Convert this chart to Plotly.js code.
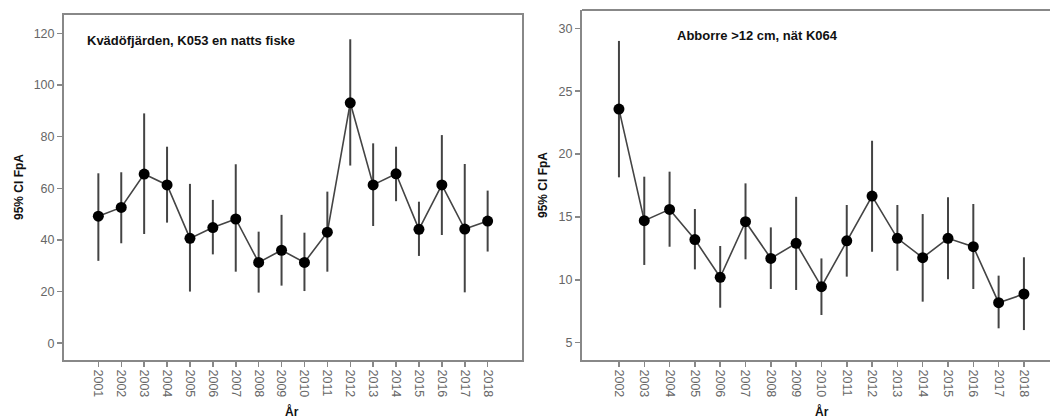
<!DOCTYPE html>
<html>
<head>
<meta charset="utf-8">
<script src="https://cdn.plot.ly/plotly-3.0.1.min.js"></script>
<style>html,body{margin:0;padding:0;background:#fff;}#chart{width:1050px;height:418px;}</style>
</head>
<body>
<div id="chart"></div>
<script>
// Left panel: Kvädöfjärden, K053
const yearsA = [2001,2002,2003,2004,2005,2006,2007,2008,2009,2010,2011,2012,2013,2014,2015,2016,2017,2018];
const meanA  = [49.2,52.6,65.5,61.3,40.6,44.8,48.1,31.3,36.0,31.3,43.0,93.1,61.3,65.6,44.1,61.3,44.2,47.3];
const lowA   = [31.9,38.7,42.3,46.7,20.0,34.4,27.7,19.6,22.3,20.2,27.7,68.8,45.4,55.0,33.8,41.9,19.7,35.5];
const highA  = [65.8,66.2,89.0,76.1,61.7,55.5,69.3,43.2,49.7,42.8,58.7,117.7,77.4,76.1,54.8,80.6,69.4,59.1];

// Right panel: Abborre >12 cm, nät K064
const yearsB = [2002,2003,2004,2005,2006,2007,2008,2009,2010,2011,2012,2013,2014,2015,2016,2017,2018];
const meanB  = [23.58,14.70,15.60,13.20,10.20,14.62,11.70,12.90,9.45,13.10,16.66,13.30,11.76,13.30,12.63,8.18,8.87];
const lowB   = [18.15,11.18,12.63,10.83,7.78,11.63,9.27,9.19,7.20,10.25,12.23,10.72,8.26,10.04,9.27,6.14,6.00];
const highB  = [29.00,18.20,18.60,15.63,12.69,17.67,14.17,16.60,11.70,15.95,21.06,15.95,15.23,16.56,16.03,10.33,11.79];

const tickA = [0,20,40,60,80,100,120];
const tickB = [5,10,15,20,25,30];

function trace(x, m, lo, hi, xa, ya) {
  return {
    x: x, y: m, xaxis: xa, yaxis: ya, type: 'scatter', mode: 'lines+markers',
    line: {color: '#444', width: 1.6},
    marker: {color: '#000', size: 11},
    error_y: {type: 'data', symmetric: false,
      array: hi.map((h, i) => h - m[i]),
      arrayminus: lo.map((l, i) => m[i] - l),
      color: '#444', thickness: 2, width: 0},
    showlegend: false, hoverinfo: 'skip'
  };
}

const axisFont = {family: 'Liberation Sans, Arial, sans-serif', size: 12.5, color: '#666'};
const gridLine = '#888';

const layout = {
  width: 1050, height: 418,
  margin: {l: 0, r: 0, t: 0, b: 0},
  paper_bgcolor: '#fff', plot_bgcolor: '#fff',
  xaxis: {domain: [64/1050, 522/1050], range: [1999.5, 2019.5], tickvals: yearsA, ticktext: yearsA.map(String),
    tickangle: 90, ticks: 'outside', ticklen: 5, tickcolor: gridLine, tickwidth: 1.5,
    showline: true, linecolor: gridLine, linewidth: 2, mirror: true, showgrid: false, zeroline: false,
    tickfont: axisFont, anchor: 'y', fixedrange: true},
  yaxis: {domain: [1 - 360/418, 1 - 15/418], range: [-6.5, 127.1], tickvals: tickA,
    ticks: 'outside', ticklen: 5, tickcolor: gridLine, tickwidth: 1.5,
    showline: true, linecolor: gridLine, linewidth: 2, mirror: true, showgrid: false, zeroline: false,
    tickfont: axisFont, anchor: 'x', fixedrange: true},
  xaxis2: {domain: [582/1050, 1], range: [2000.54, 2019.03], tickvals: yearsB, ticktext: yearsB.map(String),
    tickangle: 90, ticks: 'outside', ticklen: 5, tickcolor: gridLine, tickwidth: 1.5,
    showline: true, linecolor: gridLine, linewidth: 2, showgrid: false, zeroline: false,
    tickfont: axisFont, anchor: 'y2', fixedrange: true},
  yaxis2: {domain: [1 - 360/418, 1 - 10/418], range: [3.62, 31.46], tickvals: tickB,
    ticks: 'outside', ticklen: 5, tickcolor: gridLine, tickwidth: 1.5,
    showline: true, linecolor: gridLine, linewidth: 2, showgrid: false, zeroline: false,
    tickfont: axisFont, anchor: 'x2', fixedrange: true},
  shapes: [
    {type: 'line', xref: 'x2 domain', yref: 'y2 domain', x0: 0, x1: 1, y0: 1, y1: 1,
     line: {color: gridLine, width: 2}}
  ],
  annotations: [
    {text: '<b>Kvädöfjärden, K053 en natts fiske</b>', xref: 'paper', yref: 'paper',
     x: 85/1050, y: 1 - 40/418, xanchor: 'left', yanchor: 'middle', showarrow: false,
     font: {family: 'Liberation Sans, Arial, sans-serif', size: 13, color: '#111'}},
    {text: '<b>Abborre >12 cm, nät K064</b>', xref: 'paper', yref: 'paper',
     x: 675/1050, y: 1 - 35/418, xanchor: 'left', yanchor: 'middle', showarrow: false,
     font: {family: 'Liberation Sans, Arial, sans-serif', size: 13, color: '#111'}},
    {text: '<b>95% CI FpA</b>', xref: 'paper', yref: 'paper', x: 19/1050, y: 1 - 187/418,
     textangle: -90, showarrow: false, xanchor: 'center', yanchor: 'middle',
     font: {family: 'Liberation Sans, Arial, sans-serif', size: 12, color: '#111'}},
    {text: '<b>95% CI FpA</b>', xref: 'paper', yref: 'paper', x: 543/1050, y: 1 - 185/418,
     textangle: -90, showarrow: false, xanchor: 'center', yanchor: 'middle',
     font: {family: 'Liberation Sans, Arial, sans-serif', size: 12, color: '#111'}},
    {text: '<b>År</b>', xref: 'paper', yref: 'paper', x: 292/1050, y: 1 - 411/418,
     showarrow: false, xanchor: 'center', yanchor: 'middle',
     font: {family: 'Liberation Sans, Arial, sans-serif', size: 12, color: '#111'}},
    {text: '<b>År</b>', xref: 'paper', yref: 'paper', x: 822/1050, y: 1 - 411/418,
     showarrow: false, xanchor: 'center', yanchor: 'middle',
     font: {family: 'Liberation Sans, Arial, sans-serif', size: 12, color: '#111'}}
  ]
};

Plotly.newPlot('chart', [
  trace(yearsA, meanA, lowA, highA, 'x', 'y'),
  trace(yearsB, meanB, lowB, highB, 'x2', 'y2')
], layout, {displayModeBar: false, staticPlot: true});
</script>
</body>
</html>
